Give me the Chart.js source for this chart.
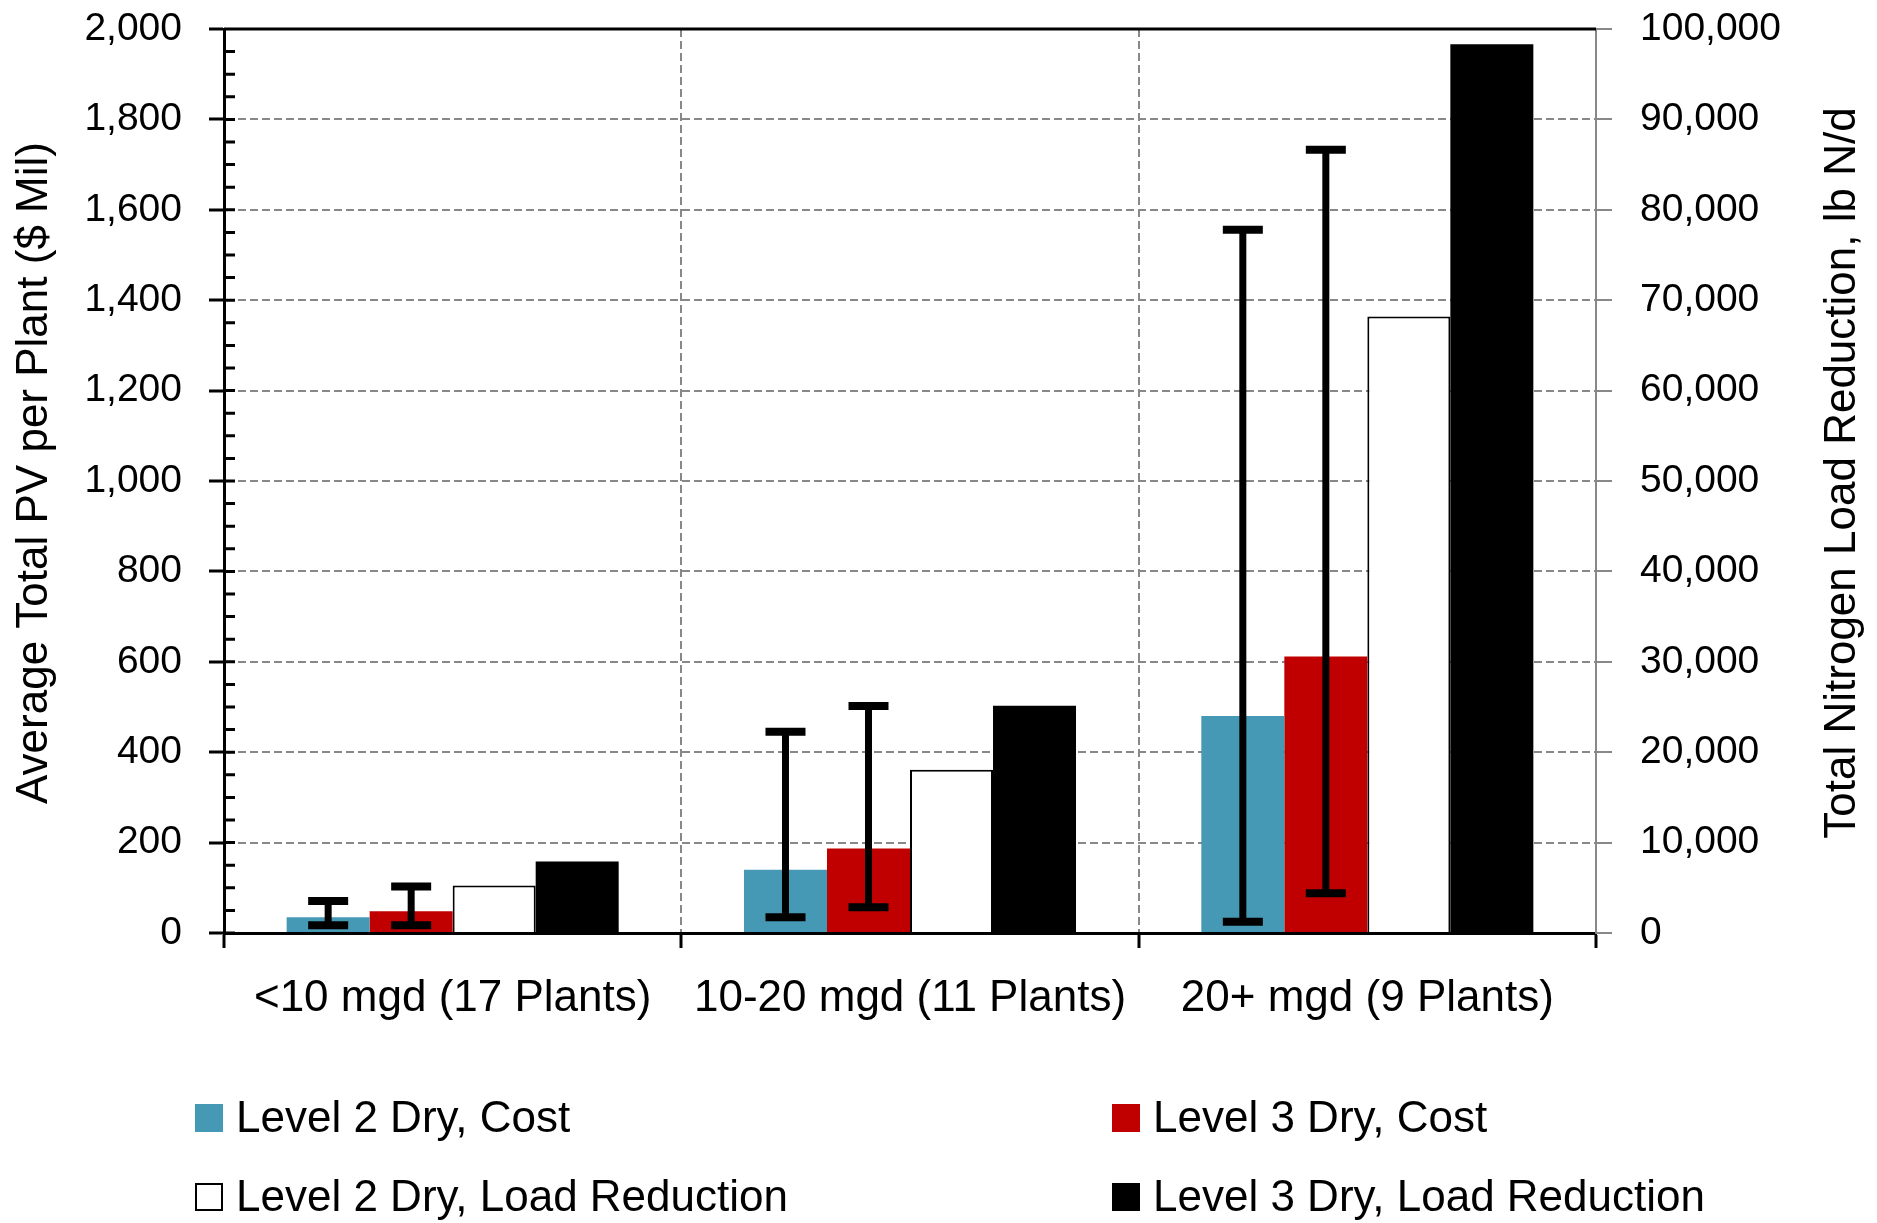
<!DOCTYPE html>
<html>
<head>
<meta charset="utf-8">
<title>Average Total PV per Plant and Total Nitrogen Load Reduction</title>
<script src="https://cdn.jsdelivr.net/npm/chart.js@4.4.1/dist/chart.umd.min.js"></script>
<style>
  html, body { margin: 0; padding: 0; background: #fff; }
  #wrap { width: 1877px; height: 1223px; }
</style>
</head>
<body>
<div id="wrap"><canvas id="pvChart"></canvas></div>
<script>
// plant size groups
const categories = ['<10 mgd (17 Plants)', '10-20 mgd (11 Plants)', '20+ mgd (9 Plants)'];

// average total PV per plant, $ Mil (left axis)
const level2Cost = [35, 140, 480];
const level3Cost = [48, 187, 612];

// range (error bars) of the cost series, $ Mil
const level2CostLow = [17, 35, 25];
const level2CostHigh = [71, 445, 1556];
const level3CostLow = [17, 57, 88];
const level3CostHigh = [103, 502, 1733];

// total nitrogen load reduction, lb N/d (right axis)
const level2Load = [5260, 18050, 68200];
const level3Load = [7900, 25150, 98300];

const leftTitle = 'Average Total PV per Plant ($ Mil)';
const rightTitle = 'Total Nitrogen Load Reduction, lb N/d';

const FONT = "'Liberation Sans', Arial, sans-serif";
Chart.defaults.font.family = FONT;
Chart.defaults.color = '#000';

const errRanges = {
  0: { low: level2CostLow, high: level2CostHigh },
  1: { low: level3CostLow, high: level3CostHigh }
};

// error bars on the cost bars
const errorBars = {
  id: 'errorBars',
  afterDatasetsDraw(chart) {
    const ctx = chart.ctx;
    ctx.save();
    ctx.strokeStyle = '#000';
    Object.keys(errRanges).forEach(k => {
      const meta = chart.getDatasetMeta(+k);
      const ys = chart.scales[meta.yAxisID];
      meta.data.forEach((bar, j) => {
        const yHi = ys.getPixelForValue(errRanges[k].high[j]);
        const yLo = ys.getPixelForValue(errRanges[k].low[j]);
        ctx.lineWidth = 7;
        ctx.beginPath();
        ctx.moveTo(bar.x, yHi);
        ctx.lineTo(bar.x, yLo);
        ctx.stroke();
        ctx.lineWidth = 8;
        ctx.beginPath();
        ctx.moveTo(bar.x - 20, yHi); ctx.lineTo(bar.x + 20, yHi);
        ctx.moveTo(bar.x - 20, yLo); ctx.lineTo(bar.x + 20, yLo);
        ctx.stroke();
      });
    });
    ctx.restore();
  }
};

// frame top, inner tick marks, axis titles and the two-column legend
const decorations = {
  id: 'decorations',
  afterDraw(chart) {
    const ctx = chart.ctx;
    const area = chart.chartArea;
    const y = chart.scales.y;
    ctx.save();
    ctx.strokeStyle = '#000';
    ctx.lineWidth = 3;
    ctx.beginPath();
    ctx.moveTo(area.left, area.top);
    ctx.lineTo(area.right, area.top);
    for (let v = 0; v <= 2000; v += 50) {
      const py = y.getPixelForValue(v);
      ctx.moveTo(area.left, py);
      ctx.lineTo(area.left + 11, py);
    }
    ctx.stroke();

    ctx.fillStyle = '#000';
    ctx.textAlign = 'center';
    ctx.textBaseline = 'middle';
    ctx.font = '44px ' + FONT;
    ctx.save();
    ctx.translate(35, 473);
    ctx.rotate(-Math.PI / 2);
    ctx.fillText(leftTitle, 0, 0);
    ctx.restore();
    ctx.save();
    ctx.translate(1843, 473);
    ctx.rotate(-Math.PI / 2);
    ctx.fillText(rightTitle, 0, 0);
    ctx.restore();

    const cols = [195, 1112], rows = [1118, 1197];
    ctx.font = '44px ' + FONT;
    ctx.textAlign = 'left';
    chart.data.datasets.forEach((ds, i) => {
      const x = cols[i % 2], ry = rows[Math.floor(i / 2)];
      ctx.fillStyle = ds.backgroundColor;
      ctx.fillRect(x, ry - 14, 28, 28);
      ctx.lineWidth = 2;
      ctx.strokeStyle = ds.borderColor;
      ctx.strokeRect(x + 1, ry - 13, 26, 26);
      ctx.fillStyle = '#000';
      ctx.fillText(ds.label, x + 41, ry + 2);
    });
    ctx.restore();
  }
};

// fixed axis sizes so the plot area sits where it does in the original
const fitY = w => s => { s.width = w; s.paddingTop = 0; s.paddingBottom = 0; };

new Chart(document.getElementById('pvChart'), {
  type: 'bar',
  data: {
    labels: categories,
    datasets: [
      { label: 'Level 2 Dry, Cost', data: level2Cost, yAxisID: 'y',
        backgroundColor: '#4599B5', borderColor: '#4599B5', borderWidth: 0 },
      { label: 'Level 3 Dry, Cost', data: level3Cost, yAxisID: 'y',
        backgroundColor: '#C00000', borderColor: '#C00000', borderWidth: 0 },
      { label: 'Level 2 Dry, Load Reduction', data: level2Load, yAxisID: 'y1',
        backgroundColor: '#FFFFFF', borderColor: '#000000', borderWidth: 2 },
      { label: 'Level 3 Dry, Load Reduction', data: level3Load, yAxisID: 'y1',
        backgroundColor: '#000000', borderColor: '#000000', borderWidth: 0 }
    ]
  },
  options: {
    responsive: true,
    maintainAspectRatio: false,
    animation: false,
    categoryPercentage: 0.726,
    barPercentage: 1.0,
    layout: { padding: { top: 29, left: 0, right: 0, bottom: 0 } },
    plugins: {
      legend: { display: false },
      tooltip: { enabled: false }
    },
    scales: {
      x: {
        offset: true,
        grid: { offset: true, color: '#888', lineWidth: 2, tickLength: 15, tickColor: '#000', tickWidth: 3 },
        border: { color: '#000', width: 3, dash: [8, 4] },
        ticks: { font: { size: 44 }, color: '#000', padding: 24, maxRotation: 0, autoSkip: false },
        afterFit: s => { s.height = 290; s.paddingLeft = 0; s.paddingRight = 0; }
      },
      y: {
        position: 'left',
        min: 0,
        max: 2000,
        ticks: { stepSize: 200, font: { size: 39 }, color: '#000', padding: 27,
                 callback: v => v.toLocaleString('en-US') },
        grid: { color: '#888', lineWidth: 2, tickLength: 15, tickColor: '#000', tickWidth: 3 },
        border: { color: '#000', width: 3, dash: [8, 4] },
        afterFit: fitY(224)
      },
      y1: {
        position: 'right',
        min: 0,
        max: 100000,
        ticks: { stepSize: 10000, font: { size: 39 }, color: '#000', padding: 28,
                 callback: v => v.toLocaleString('en-US') },
        grid: { drawOnChartArea: false, color: '#888', lineWidth: 2, tickLength: 16, tickColor: '#888', tickWidth: 2 },
        border: { color: '#888', width: 2 },
        afterFit: fitY(281)
      }
    }
  },
  plugins: [errorBars, decorations]
});
</script>
</body>
</html>
